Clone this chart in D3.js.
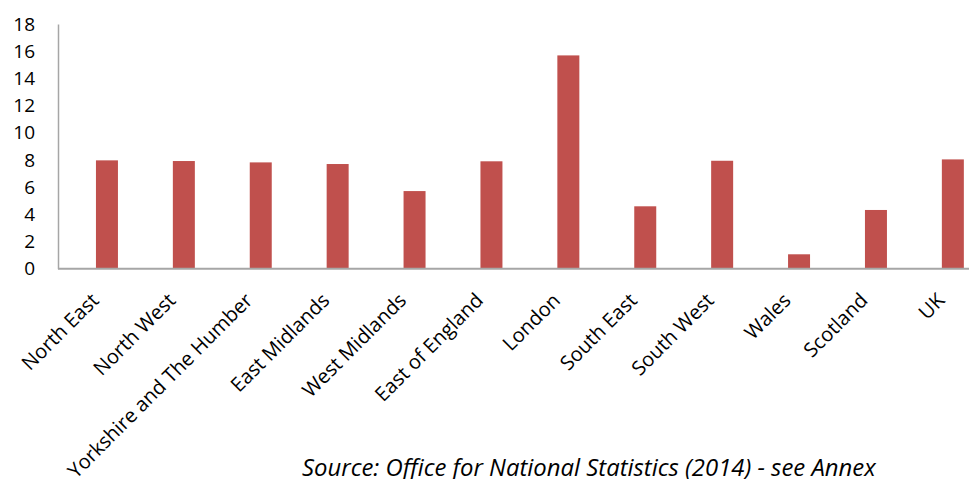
<!DOCTYPE html>
<html>
<head>
<meta charset="utf-8">
<script src="https://cdn.jsdelivr.net/npm/d3@7"></script>
<style>
  html, body { margin: 0; padding: 0; background: #fff; }
  svg { display: block; }
  text { font-family: "Open Sans", "Noto Sans", sans-serif; fill: #000; }
</style>
</head>
<body>
<svg id="chart" width="969" height="479"></svg>
<script>
const categories = ["North East", "North West", "Yorkshire and The Humber", "East Midlands",
  "West Midlands", "East of England", "London", "South East", "South West", "Wales", "Scotland", "UK"];
const values = [7.97, 7.92, 7.82, 7.70, 5.71, 7.90, 15.69, 4.59, 7.94, 1.06, 4.32, 8.04];
const yTicks = [0, 2, 4, 6, 8, 10, 12, 14, 16, 18];
const sourceNote = "Source: Office for National Statistics (2014) - see Annex";

const svg = d3.select("#chart");
const axisX = 58, baseY = 268.7, topY = 24;

const x = d3.scaleBand().domain(categories).range([68.5, 991.3])
  .paddingInner(0.714).paddingOuter(0.357);
const y = d3.scaleLinear().domain([0, 18]).range([baseY, topY]);

// bars
svg.append("g").selectAll("rect").data(values).join("rect")
  .attr("x", (d, i) => x(categories[i]))
  .attr("width", x.bandwidth())
  .attr("y", d => y(d))
  .attr("height", d => y(0) - y(d))
  .attr("fill", "#C0504D");

// y axis
const yAxis = d3.axisLeft(y).tickValues(yTicks).tickSize(0).tickPadding(23).tickFormat(d3.format("d"));
const gy = svg.append("g").attr("transform", `translate(${axisX},0)`).call(yAxis);
gy.select(".domain").attr("stroke", "#A6A6A6").attr("stroke-width", 1.5);
gy.selectAll("text").attr("font-size", 19).attr("font-family", "'Open Sans', sans-serif").attr("fill", "#000");

// x axis baseline
svg.append("line").attr("x1", axisX).attr("x2", 969).attr("y1", baseY).attr("y2", baseY)
  .attr("stroke", "#A6A6A6").attr("stroke-width", 2);

// category labels
svg.append("g").selectAll("text").data(categories).join("text")
  .attr("transform", d => `translate(${x(d) + x.bandwidth() / 2 - 7},${baseY + 33}) rotate(-45)`)
  .attr("text-anchor", "end")
  .attr("font-size", 20)
  .text(d => d);

// source note
const src = svg.append("text").attr("x", 302).attr("y", 476)
  .attr("font-size", 20).attr("font-style", "italic")
  .text(sourceNote);
const w = src.node().getComputedTextLength();
src.attr("font-size", 20 * 574 / w);
</script>
</body>
</html>
